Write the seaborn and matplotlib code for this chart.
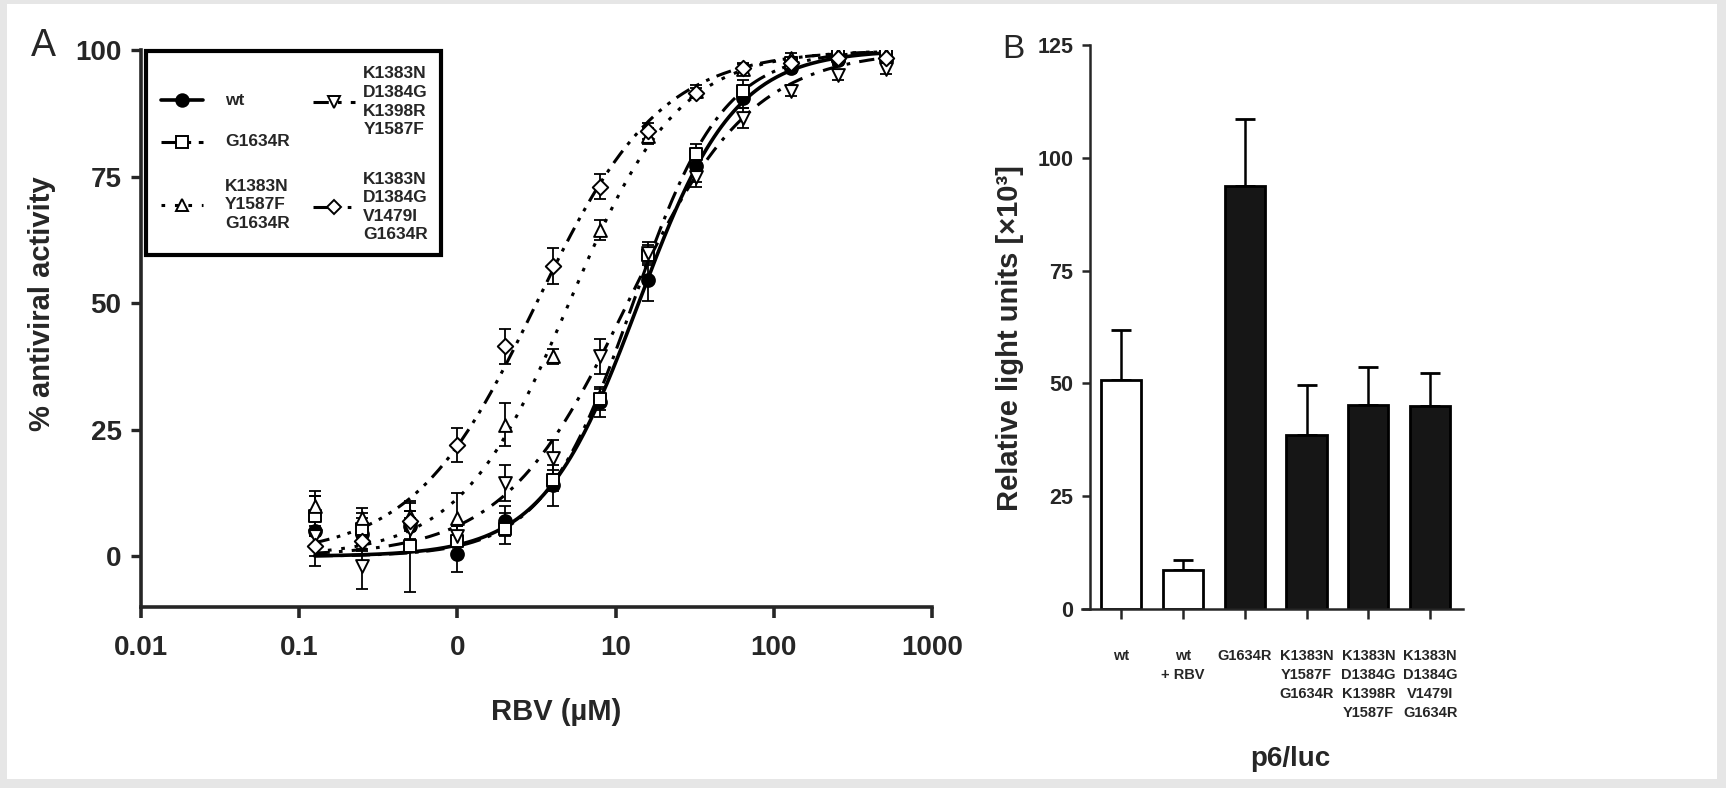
import numpy as np
import pandas as pd
import seaborn as sns
import matplotlib.pyplot as plt
from matplotlib.patches import Rectangle

# ---- Panel A: % antiviral activity vs RBV (uM), two-fold dilutions
rbv_conc = [0.125, 0.25, 0.5, 1, 2, 4, 8, 16, 32, 64, 128, 256, 512]

wt_mean = [5, 4.5, 6, 0.5, 7, 14, 30.5, 54.5, 77, 90.5, 96.5, 98, 98.2]
wt_err = [7, 3, 3, 3.5, 3, 4, 3, 4, 3, 2, 1, 1, 1]

g1634r_mean = [8, 5.5, 2, 3, 5.5, 15, 31, 59.5, 79.5, 92, 97.5, 99, 99.5]
g1634r_err = [4, 3, 9, 3, 3, 2, 2, 2, 2, 2, 1, 1, 1]

triple_mean = [10, 7.5, 8, 7.5, 26, 39.5, 64.5, 83, 92, 96.2, 98.5, 99, 99]
triple_err = [3, 2, 2.5, 5, 4.3, 1.5, 2, 1.5, 1, 1, 1, 1, 1]

quad_mean = [4, -2, 5.5, 4, 14.5, 19.5, 39.5, 60, 75, 86.5, 92, 95, 96.2]
quad_err = [2, 4.5, 2, 2, 3.5, 3.5, 3.5, 2, 2, 2, 1, 1, 1]

quint_mean = [2, 3, 7, 22, 41.5, 57.3, 73, 84, 91.5, 96.5, 97.5, 98.5, 98.5]
quint_err = [2, 2, 2, 3.4, 3.5, 3.6, 2.5, 1.5, 1, 1, 1, 1, 1]

series_names = ["wt", "G1634R", "K1383N\nY1587F\nG1634R",
                "K1383N\nD1384G\nK1398R\nY1587F", "K1383N\nD1384G\nV1479I\nG1634R"]

x_tick_vals = [0.01, 0.1, 1, 10, 100, 1000]
x_tick_labels = ["0.01", "0.1", "0", "10", "100", "1000"]

# ---- Panel B: p6/luc replicon, relative light units (x10^3)
rep_labels = ["wt", "wt\n+ RBV", "G1634R", "K1383N\nY1587F\nG1634R",
              "K1383N\nD1384G\nK1398R\nY1587F", "K1383N\nD1384G\nV1479I\nG1634R"]
rlu_mean = [50.8, 8.6, 93.8, 38.6, 45.2, 45.0]
rlu_err = [11.1, 2.3, 14.7, 11.1, 8.5, 7.4]
bar_colors = ["white", "white", "#161616", "#161616", "#161616", "#161616"]


def fit_logistic(x, y):
    # least squares fit of a 0-100 sigmoid (log EC50, Hill slope) by grid search
    lx = np.log10(np.asarray(x, float))
    y = np.asarray(y, float)
    logec = np.linspace(-1, 2.5, 701)[:, None, None]
    hill = np.linspace(0.3, 3, 271)[None, :, None]
    pred = 100 / (1 + 10 ** ((logec - lx[None, None, :]) * hill))
    sse = ((pred - y) ** 2).sum(axis=2)
    i, j = np.unravel_index(sse.argmin(), sse.shape)
    return logec[i, 0, 0], hill[0, j, 0]


sns.set_style("ticks")
plt.rcParams["font.family"] = ["Liberation Sans", "DejaVu Sans"]

W, H = 1726, 788
fig = plt.figure(figsize=(W / 100, H / 100), dpi=100)
fig.patch.set_facecolor("#e6e6e6")
fig.patches.append(Rectangle((7 / W, 9 / H), 1 - 16 / W, 1 - 13 / H,
                             transform=fig.transFigure, facecolor="white",
                             edgecolor="none", zorder=-5))

# ================= Panel A =================
ax = fig.add_axes([141 / W, 181 / H, 791 / W, 557 / H])
ax.set_facecolor("none")
ax.set_xscale("log")

styles = [
    dict(ls="-", marker="o", fill="black", lw=2.6),
    dict(ls=(0, (6, 2.5, 1.2, 2.5)), marker="s", fill="white", lw=2.2),
    dict(ls=(0, (1.2, 3.2)), marker="^", fill="white", lw=2.2),
    dict(ls=(0, (5, 3, 1.2, 3)), marker="v", fill="white", lw=2.2),
    dict(ls=(0, (5, 2.5, 1.2, 2.5, 1.2, 2.5)), marker="D", fill="white", lw=2.2),
]
means = [wt_mean, g1634r_mean, triple_mean, quad_mean, quint_mean]
errs = [wt_err, g1634r_err, triple_err, quad_err, quint_err]

xs = np.logspace(np.log10(rbv_conc[0]), np.log10(rbv_conc[-1]), 300)
for name, m, e, st in zip(series_names, means, errs, styles):
    lec, h = fit_logistic(rbv_conc, m)
    ys = 100 / (1 + 10 ** ((lec - np.log10(xs)) * h))
    sns.lineplot(x=xs, y=ys, ax=ax, color="black", lw=st["lw"],
                 linestyle=st["ls"], zorder=2)
    ax.errorbar(rbv_conc, m, yerr=e, fmt="none", ecolor="black",
                elinewidth=1.3, capsize=4, capthick=1.3, zorder=3)
    msize = 85 if st["marker"] != "D" else 62
    sns.scatterplot(x=rbv_conc, y=m, ax=ax, marker=st["marker"], s=msize,
                    color=st["fill"], edgecolor="black", linewidth=1.4, zorder=4)

ax.set_xlim(0.01, 1000)
ax.set_ylim(-10, 100)
ax.set_yticks([0, 25, 50, 75, 100])
ax.set_xticks(x_tick_vals)
ax.set_xticklabels(x_tick_labels)
ax.minorticks_off()
for s in ["top", "right"]:
    ax.spines[s].set_visible(False)
for s in ["left", "bottom"]:
    ax.spines[s].set_linewidth(2.6)
ax.tick_params(axis="y", length=7, width=2.4, pad=7, labelsize=20)
ax.tick_params(axis="x", length=8, width=2.6, pad=12, labelsize=20)
for t in ax.get_xticklabels() + ax.get_yticklabels():
    t.set_fontweight("bold")
ax.set_xlabel("RBV (µM)", fontsize=21, fontweight="bold")
ax.xaxis.set_label_coords(0.525, -0.163)
ax.set_ylabel("% antiviral activity", fontsize=21, fontweight="bold")
ax.yaxis.set_label_coords(-0.108, 0.545)

# legend box drawn by hand so the multi-line entries line up like the original
ax.add_patch(Rectangle((0.006, 0.632), 0.373, 0.366, transform=ax.transAxes,
                       facecolor="white", edgecolor="black", lw=3,
                       zorder=10, clip_on=False))
leg_pos = [(0.052, 0.910), (0.052, 0.835), (0.052, 0.722),
           (0.244, 0.907), (0.244, 0.718)]
text_x = [0.106, 0.106, 0.106, 0.281, 0.281]
for (hx, hy), tx, name, st in zip(leg_pos, text_x, series_names, styles):
    ax.plot([hx - 0.027, hx + 0.027], [hy, hy], transform=ax.transAxes,
            color="black", lw=st["lw"], linestyle=st["ls"], clip_on=False, zorder=11)
    ax.plot([hx], [hy], transform=ax.transAxes, marker=st["marker"],
            ms=9 if st["marker"] != "D" else 7.5, mfc=st["fill"], mec="black",
            mew=1.4, ls="none", clip_on=False, zorder=12)
    ax.text(tx, hy, name, transform=ax.transAxes, ha="left", va="center",
            fontsize=12.5, fontweight="bold", linespacing=1.3, zorder=12)

fig.text(43 / W, 1 - 46 / H, "A", fontsize=27, ha="center", va="center")

# ================= Panel B =================
axb = fig.add_axes([1082 / W, 179 / H, 381 / W, 564 / H])
axb.set_facecolor("none")
bars = pd.DataFrame({"construct": rep_labels, "rlu": rlu_mean})
sns.barplot(data=bars, x="construct", y="rlu", hue="construct",
            palette=bar_colors, legend=False, width=0.65,
            edgecolor="black", linewidth=2, ax=axb, zorder=2)
axb.errorbar(range(len(rep_labels)), rlu_mean,
             yerr=[np.zeros(len(rlu_err)), rlu_err], fmt="none",
             ecolor="black", elinewidth=1.8, capsize=7, capthick=2, zorder=1)
axb.set_xlim(-0.63, 5.53)
axb.set_ylim(0, 125)
axb.set_yticks([0, 25, 50, 75, 100, 125])
axb.spines["left"].set_position(("data", -0.5))
for s in ["top", "right"]:
    axb.spines[s].set_visible(False)
for s in ["left", "bottom"]:
    axb.spines[s].set_linewidth(1.8)
axb.tick_params(axis="y", length=6, width=1.8, pad=6, labelsize=15.5)
axb.tick_params(axis="x", length=7, width=1.8, pad=22, labelsize=10.5)
axb.set_xticks(range(len(rep_labels)))
axb.set_xticklabels(rep_labels, linespacing=1.45)
for t in axb.get_xticklabels() + axb.get_yticklabels():
    t.set_fontweight("bold")
axb.set_xlabel("p6/luc", fontsize=20, fontweight="bold")
axb.xaxis.set_label_coords(0.546, -0.243)
axb.set_ylabel("Relative light units [×10³]", fontsize=21, fontweight="bold")
axb.yaxis.set_label_coords(-0.152, 0.48)

fig.text(1013 / W, 1 - 49 / H, "B", fontsize=24, ha="center", va="center")

fig.savefig("out.png", dpi=100, facecolor=fig.get_facecolor())
